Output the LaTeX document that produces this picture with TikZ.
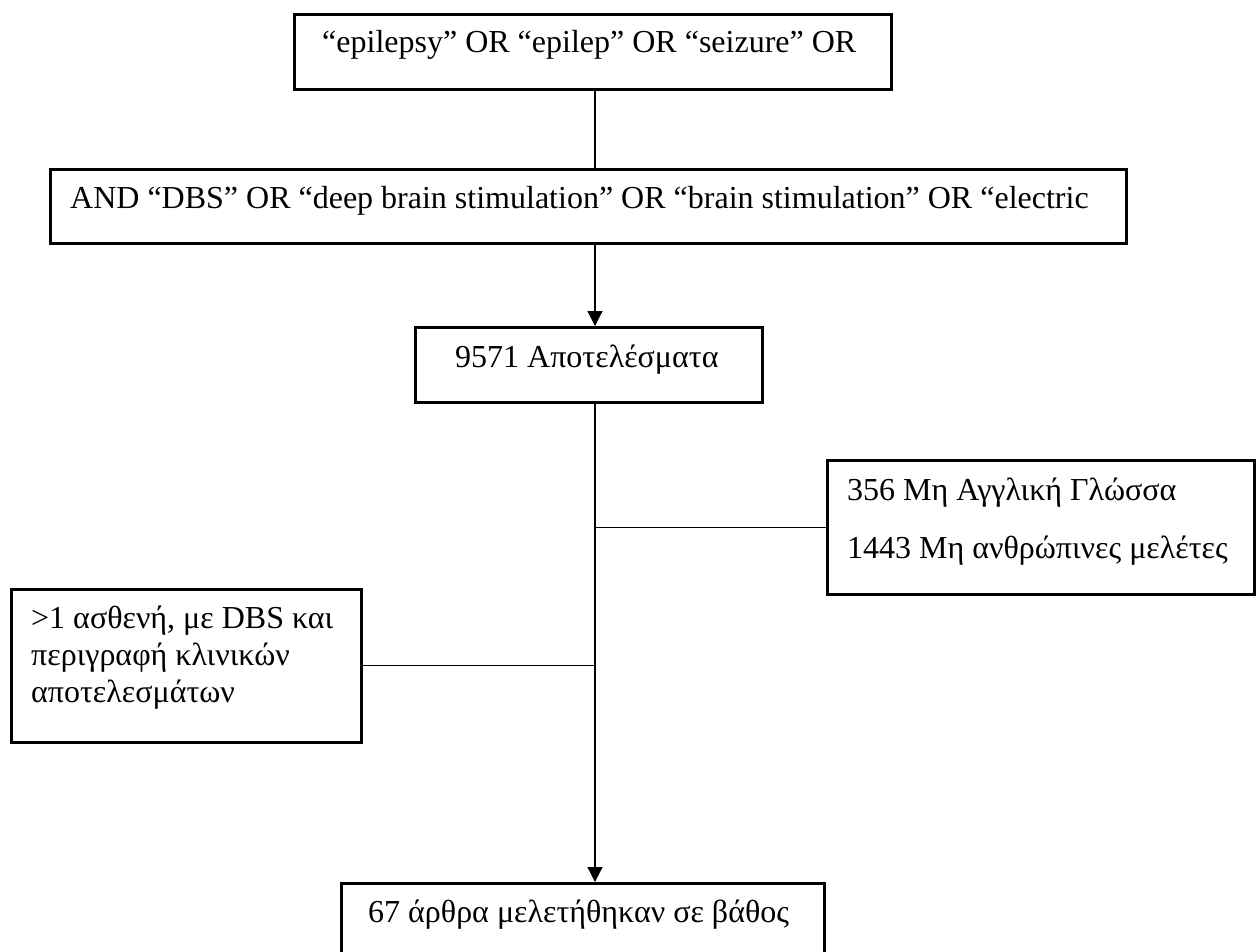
\documentclass[tikz,border=0pt]{standalone}
\usepackage{fontspec}
\setmainfont{Liberation Serif}
\usetikzlibrary{positioning,arrows.meta}

\tikzset{
  flowbox/.style={draw=black, line width=2.5pt, inner sep=0pt, anchor=north west},
  boxtext/.style={anchor=base west, inner sep=0pt, font=\fontsize{32}{37}\selectfont},
  link/.style={draw=black, line width=1.2pt},
  linkarrow/.style={link, -{Triangle[length=15pt,width=15pt]}}
}

\begin{document}
\begin{tikzpicture}[x=1pt,y=-1pt]
\useasboundingbox (0,0) rectangle (1259,951);
\fill[white] (0,0) rectangle (1259,951);
\clip (0,0) rectangle (1259,951);
\coordinate (spine) at (595,0);

% boxes
\node[flowbox, minimum width=597pt, minimum height=75pt] (srch) at (293,13) {};
\node[flowbox, minimum width=1076pt, minimum height=74pt] (terms) at (49,168) {};
\node[flowbox, minimum width=347pt, minimum height=75pt] (hits) at (414,326) {};
\node[flowbox, minimum width=427pt, minimum height=134pt] (excl) at (826,459) {};
\node[flowbox, minimum width=350pt, minimum height=153pt] (incl) at (10,588) {};
\node[flowbox, minimum width=483pt, minimum height=120pt] (final) at (340,882) {};

% texts
\node[boxtext] (srcht) at (322,52) {“epilepsy” OR “epilep” OR “seizure” OR};
\node[boxtext] (termst) at (70,208) {AND “DBS” OR “deep brain stimulation” OR “brain stimulation” OR “electric};
\node[boxtext] (hitst) at (455,367) {9571 Αποτελέσματα};
\node[boxtext] (exclta) at (847,500) {356 Μη Αγγλική Γλώσσα};
\node[boxtext] (excltb) at (847,558) {1443 Μη ανθρώπινες μελέτες};
\node[boxtext] (inclta) at (31,628) {>1 ασθενή, με DBS και};
\node[boxtext] (incltb) at (31,665) {περιγραφή κλινικών};
\node[boxtext] (incltc) at (31,702) {αποτελεσμάτων};
\node[boxtext] (finalt) at (368,922) {67 άρθρα μελετήθηκαν σε βάθος};

% connectors
\draw[link] (srch.south -| spine) -- (terms.north -| spine);
\draw[linkarrow] (terms.south -| spine) -- (hits.north -| spine);
\draw[linkarrow] (hits.south -| spine) -- (final.north -| spine);
\draw[link] (excl.west) -- (excl.west -| spine);
\draw[link] (incl.east) -- (incl.east -| spine);
\end{tikzpicture}
\end{document}
